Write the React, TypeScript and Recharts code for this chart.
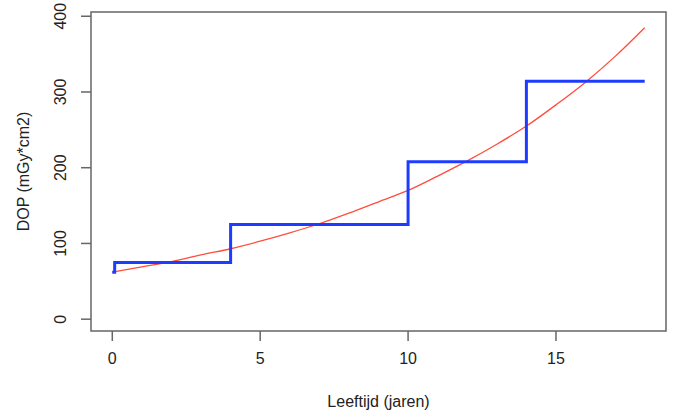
import { LineChart, Line, XAxis, YAxis, ReferenceArea } from 'recharts';

// Age (years) at which each dose level starts, and the DOP value for that step.
const STEP_AGES = [0, 0.08, 4, 10, 14, 18];
const STEP_DOP = [62, 75, 125, 208, 314, 314];

// Fitted curve at every whole year.
const FIT_AGES = [0, 1, 2, 3, 4, 5, 6, 7, 8, 9, 10, 11, 12, 13, 14, 15, 16, 17, 18];
const FIT_DOP = [62, 69, 76, 85, 93, 103, 114, 126, 140, 155, 170, 189, 209, 231, 255, 283, 313, 347, 385];

const X_TICKS = [0, 5, 10, 15];
const Y_TICKS = [0, 100, 200, 300, 400];

const X_DOMAIN: [number, number] = [-0.72, 18.72];
const Y_DOMAIN: [number, number] = [-15.6, 405.6];

const FONT = '"Liberation Sans", Arial, Helvetica, sans-serif';
const FONT_SIZE = 16;
const AXIS_COLOR = '#666666';

const steps = STEP_AGES.map((x, i) => ({ x, y: STEP_DOP[i] }));
const fit = FIT_AGES.map((x, i) => ({ x, y: FIT_DOP[i] }));

function XTick(props: { x?: number; y?: number; payload?: { value: number } }) {
  const { x = 0, y = 0, payload } = props;
  return (
    <text x={x} y={y + 21} textAnchor="middle" fontSize={FONT_SIZE} fontFamily={FONT} fill="#222">
      {payload?.value}
    </text>
  );
}

// R style: labels rotated along the axis, baseline toward the plot.
function YTick(props: { x?: number; y?: number; payload?: { value: number } }) {
  const { x = 0, y = 0, payload } = props;
  const bx = x - 13;
  return (
    <text
      x={bx}
      y={y}
      transform={`rotate(-90 ${bx} ${y})`}
      textAnchor="middle"
      fontSize={FONT_SIZE}
      fontFamily={FONT}
      fill="#222"
    >
      {payload?.value}
    </text>
  );
}

function XTitle(props: { viewBox?: { x: number; y: number; width: number; height: number } }) {
  const vb = props.viewBox ?? { x: 0, y: 0, width: 0, height: 0 };
  return (
    <text x={vb.x + vb.width / 2} y={vb.y + 76} textAnchor="middle" fontSize={FONT_SIZE} fontFamily={FONT} fill="#222">
      Leeftijd (jaren)
    </text>
  );
}

function YTitle(props: { viewBox?: { x: number; y: number; width: number; height: number } }) {
  const vb = props.viewBox ?? { x: 0, y: 0, width: 0, height: 0 };
  const cx = 28.5;
  const cy = vb.y + vb.height / 2;
  return (
    <text
      x={cx}
      y={cy}
      transform={`rotate(-90 ${cx} ${cy})`}
      textAnchor="middle"
      fontSize={FONT_SIZE}
      fontFamily={FONT}
      fill="#222"
    >
      DOP (mGy*cm2)
    </text>
  );
}

export default function App() {
  return (
    <div style={{ width: 676, height: 417, background: '#fff' }}>
      <style>{'body{margin:0}'}</style>
      <LineChart width={676} height={417} margin={{ top: 12, right: 10, bottom: 0, left: 0 }}>
        <XAxis
          type="number"
          dataKey="x"
          domain={X_DOMAIN}
          ticks={X_TICKS}
          allowDataOverflow
          axisLine={false}
          tickLine={{ stroke: AXIS_COLOR, strokeWidth: 1.5 }}
          tickSize={10}
          tick={<XTick />}
          height={86}
          label={<XTitle />}
        />
        <YAxis
          type="number"
          domain={Y_DOMAIN}
          ticks={Y_TICKS}
          allowDataOverflow
          axisLine={false}
          tickLine={{ stroke: AXIS_COLOR, strokeWidth: 1.5 }}
          tickSize={10}
          tick={<YTick />}
          width={91}
          label={<YTitle />}
        />
        <ReferenceArea
          x1={X_DOMAIN[0]}
          x2={X_DOMAIN[1]}
          y1={Y_DOMAIN[0]}
          y2={Y_DOMAIN[1]}
          fill="none"
          fillOpacity={0}
          stroke={AXIS_COLOR}
          strokeWidth={1.5}
        />
        <Line
          data={fit}
          dataKey="y"
          type="monotone"
          stroke="#ff4d3d"
          strokeWidth={1.3}
          dot={false}
          isAnimationActive={false}
        />
        <Line
          data={steps}
          dataKey="y"
          type="stepAfter"
          stroke="#1e3cff"
          strokeWidth={3}
          dot={false}
          isAnimationActive={false}
        />
      </LineChart>
    </div>
  );
}
